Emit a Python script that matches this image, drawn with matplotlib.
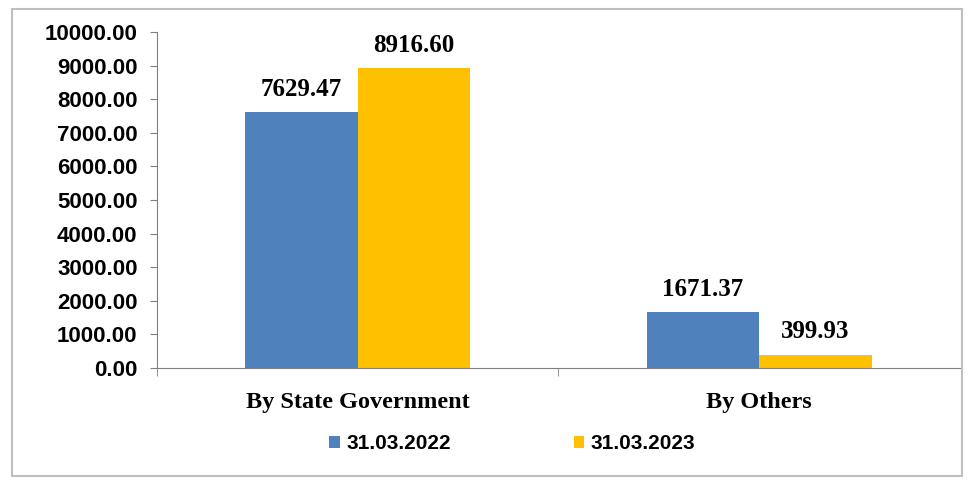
import matplotlib
matplotlib.use("Agg")
import matplotlib.pyplot as plt
from matplotlib.patches import Rectangle
import numpy as np

categories = ["By State Government", "By Others"]
series_names = ["31.03.2022", "31.03.2023"]
values_2022 = [7629.47, 1671.37]
values_2023 = [8916.60, 399.93]
yticks = [0, 1000, 2000, 3000, 4000, 5000, 6000, 7000, 8000, 9000, 10000]

colors = ["#4F81BD", "#FFC000"]

fig = plt.figure(figsize=(9.72, 4.82), dpi=100)
fig.patches.append(Rectangle((0.012, 0.013), 0.978, 0.968, transform=fig.transFigure,
                             fill=False, edgecolor="#BFBFBF", linewidth=1.5))
ax = fig.add_axes([0.1615, 0.2365, 0.826, 0.697])

x = np.arange(len(categories))
w = 0.28
b1 = ax.bar(x - w / 2, values_2022, w, color=colors[0], label=series_names[0])
b2 = ax.bar(x + w / 2, values_2023, w, color=colors[1], label=series_names[1])

lab_font = dict(family="Liberation Serif", weight="bold", size=18)
for bars, vals in ((b1, values_2022), (b2, values_2023)):
    for r, v in zip(bars, vals):
        ax.annotate(f"{v:.2f}", (r.get_x() + r.get_width() / 2, v),
                    xytext=(0, 8), textcoords="offset points",
                    ha="center", va="bottom", **lab_font)

ax.set_xlim(-0.5, 1.5)
ax.set_ylim(0, 10000)
ax.set_yticks(yticks)
ax.set_yticklabels([f"{t:.2f}" for t in yticks], fontfamily="Liberation Sans",
                   fontweight="bold", fontsize=16)
ax.set_xticks(x)
ax.set_xticklabels(categories, fontfamily="Liberation Serif", fontweight="bold", fontsize=17.5)
ax.tick_params(axis="x", length=0, pad=17)
ax.set_xticks([-0.5, 0.5], minor=True)
ax.tick_params(axis="x", which="minor", length=6, color="#808080")
ax.tick_params(axis="y", length=5, color="#808080", pad=9)

for s in ("top", "right"):
    ax.spines[s].set_visible(False)
for s in ("left", "bottom"):
    ax.spines[s].set_color("#808080")

leg = fig.legend(handles=[b1, b2], loc="center", bbox_to_anchor=(0.527, 0.079), ncol=2,
                 frameon=False, prop=dict(family="Liberation Sans", weight="bold", size=15),
                 handlelength=0.5, handleheight=0.5, columnspacing=5.9, handletextpad=0.3)

fig.savefig("out.png", dpi=100)
